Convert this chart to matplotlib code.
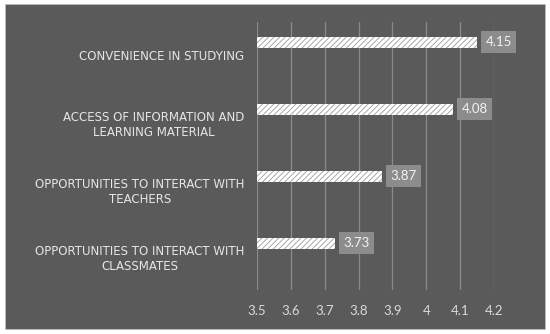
import matplotlib
matplotlib.use("Agg")
import matplotlib.pyplot as plt
from matplotlib.patches import Rectangle

categories = [
    "CONVENIENCE IN STUDYING",
    "ACCESS OF INFORMATION AND\nLEARNING MATERIAL",
    "OPPORTUNITIES TO INTERACT WITH\nTEACHERS",
    "OPPORTUNITIES TO INTERACT WITH\nCLASSMATES",
]
values = [4.15, 4.08, 3.87, 3.73]
xticks = [3.5, 3.6, 3.7, 3.8, 3.9, 4.0, 4.1, 4.2]
xticklabels = ["3.5", "3.6", "3.7", "3.8", "3.9", "4", "4.1", "4.2"]

plt.rcParams['font.family'] = ['Lato', 'DejaVu Sans']
plt.rcParams['hatch.linewidth'] = 0.6

BG = '#5a5a5a'
fig = plt.figure(figsize=(5.5, 3.34), dpi=100, facecolor='white')
fig.patches.append(Rectangle((5/550, 1-329/334), 540/550, 325/334,
                             transform=fig.transFigure, facecolor=BG,
                             edgecolor='#bfbfbf', linewidth=0.5, zorder=-10))

ax = fig.add_axes([257/550, 1-290/334, (494-257)/550, (290-22)/334])
ax.set_facecolor('none')
ax.set_xlim(3.5, 4.2)
ax.set_ylim(3.5, -0.5)

ypos = [i - 0.2 for i in range(len(values))]
ax.barh(ypos, [v - 3.5 for v in values], left=3.5, height=0.165,
        color='white', edgecolor='none', zorder=3)
ax.barh(ypos, [v - 3.5 for v in values], left=3.5, height=0.165,
        color='none', edgecolor='#9a9a9a', linewidth=0, hatch='//////', zorder=4)

for y, v in zip(ypos, values):
    ax.annotate(f"{v:.2f}", xy=(v, y), xytext=(6, 0), textcoords='offset points',
                ha='left', va='center', color='#f2f2f2', fontsize=9.5,
                bbox=dict(boxstyle='square,pad=0.35', facecolor='#8c8c8c',
                          edgecolor='none'), zorder=5)

ax.set_xticks(xticks)
ax.set_xticklabels(xticklabels, color='#d9d9d9', fontsize=9.5)
ax.set_yticks(range(len(categories)))
ax.set_yticklabels(categories, color='#e6e6e6', fontsize=8.5,
                   family=['DejaVu Sans'], multialignment='center',
                   linespacing=1.2)
ax.tick_params(axis='both', length=0)
ax.tick_params(axis='x', pad=11)
ax.tick_params(axis='y', pad=9)
ax.grid(axis='x', color='#8a8a8a', linewidth=0.9, zorder=0)
for s in ax.spines.values():
    s.set_visible(False)

fig.savefig('out.png', dpi=100, facecolor='white')
